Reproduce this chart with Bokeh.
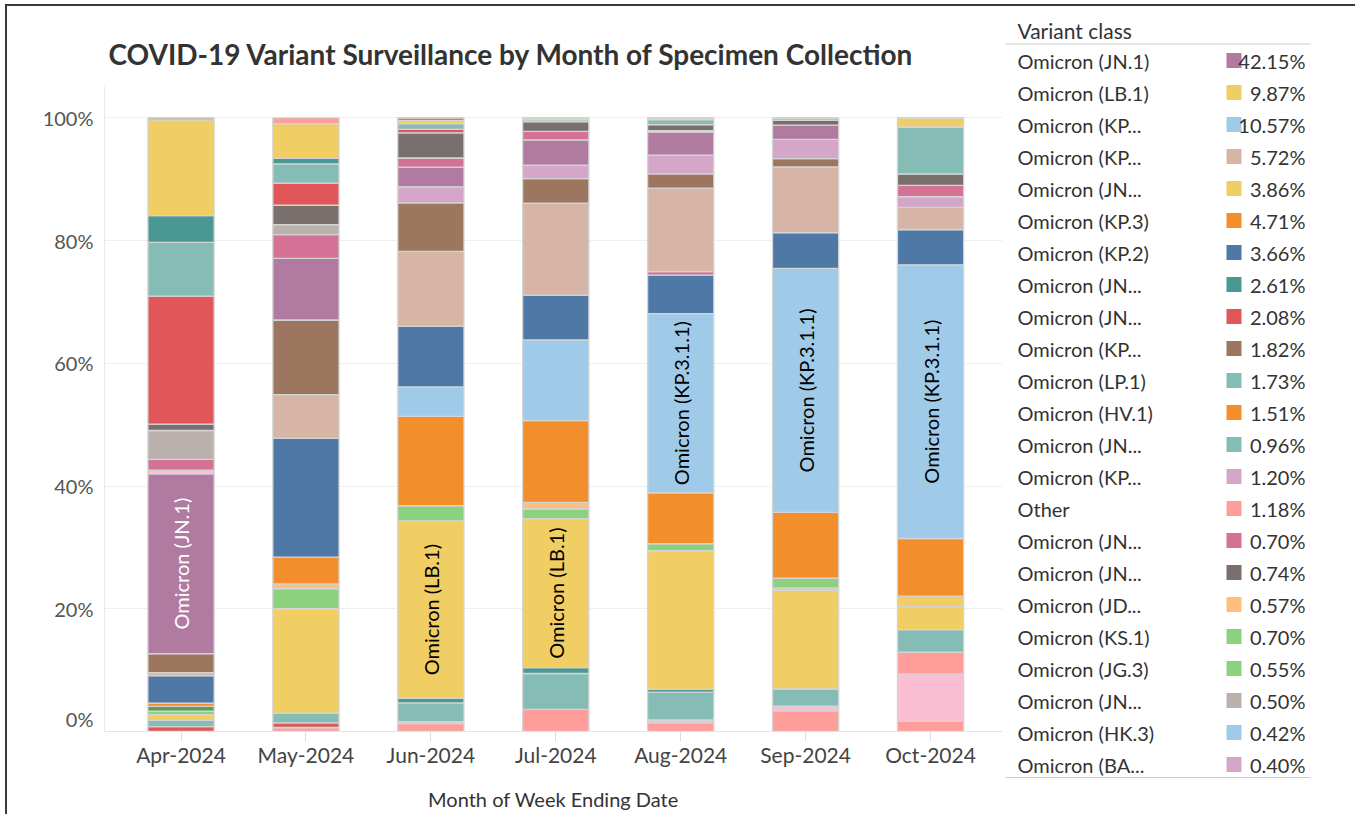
import math
from bokeh.plotting import figure
from bokeh.models import Range1d, FixedTicker, ColumnDataSource
from bokeh.layouts import row
from bokeh.embed import file_html
from bokeh.resources import INLINE
from bokeh.core.properties import value

FONT = "Lato"

months = ["Apr-2024", "May-2024", "Jun-2024", "Jul-2024", "Aug-2024", "Sep-2024", "Oct-2024"]

# share of sequences (%) per month, stacking layers listed bottom -> top
other = [0, 0.65, 1.3, 3.6, 1.4, 3.35, 1.65]
xec = [0, 0, 0.3, 0, 0.5, 0.8, 7.75]
mc_1 = [0, 0, 0, 0, 0, 0, 3.55]
jn_1_16_1 = [0.8, 0.75, 0, 0, 0, 0, 0]
jn_1_18 = [1.0, 1.6, 3.05, 5.85, 4.5, 2.8, 3.65]
jn_1_16 = [0, 0, 0.75, 0.95, 0.45, 0, 0]
lb_1 = [0.95, 17.0, 28.9, 24.3, 22.6, 16.05, 3.75]
kp_2_3 = [0, 0, 0, 0, 0, 0.4, 1.7]
ks_1 = [0.55, 3.3, 2.5, 1.6, 1.15, 1.6, 0]
jg_3 = [0.8, 0, 0, 0, 0, 0, 0]
jd_1_1 = [0, 0.75, 0, 1.05, 0, 0, 0]
kp_3 = [0.5, 4.35, 14.55, 13.3, 8.3, 10.7, 9.4]
kp_3_1_1 = [0, 0, 4.8, 13.15, 29.2, 39.75, 44.6]
kp_2 = [4.5, 19.35, 9.9, 7.3, 6.25, 5.85, 5.75]
kp_2_15 = [0, 0, 0, 0, 0.6, 0, 0]
kp_1_1_3 = [0.5, 7.15, 12.2, 15.0, 13.6, 10.7, 3.6]
kp_1_1 = [3.1, 12.15, 7.9, 4.0, 2.3, 1.35, 0]
kp_4_1 = [0, 0, 2.6, 2.2, 3.05, 3.15, 1.75]
jn_1 = [29.3, 10.05, 3.2, 4.1, 3.8, 2.3, 0]
ba_2_86_1 = [0.6, 0, 0, 0, 0, 0, 0]
jn_1_8_1 = [1.75, 3.85, 1.5, 1.4, 0.2, 0, 1.85]
jn_1_4_3 = [4.7, 1.65, 0, 0, 0, 0, 0]
jn_1_11 = [1.05, 3.15, 4.1, 1.6, 1.0, 0.8, 1.85]
jn_1_13_1 = [20.85, 3.6, 0.55, 0, 0, 0, 0]
lp_1 = [8.75, 3.15, 0.95, 0.3, 0.8, 0.4, 7.65]
jn_1_7 = [4.35, 0.9, 0, 0, 0, 0, 0]
jn_1_11_1 = [15.6, 5.65, 0.5, 0.3, 0.3, 0, 1.5]
xdp = [0.35, 0, 0.45, 0, 0, 0, 0]
hv_1 = [0, 0.95, 0, 0, 0, 0, 0]

layer_names = ["Other", "XEC", "MC.1", "JN.1.16.1", "JN.1.18", "JN.1.16", "LB.1", "KP.2.3",
               "KS.1", "JG.3", "JD.1.1", "KP.3", "KP.3.1.1", "KP.2", "KP.2.15", "KP.1.1.3",
               "KP.1.1", "KP.4.1", "JN.1", "BA.2.86.1", "JN.1.8.1", "JN.1.4.3", "JN.1.11",
               "JN.1.13.1", "LP.1", "JN.1.7", "JN.1.11.1", "XDP", "HV.1"]
layer_values = [other, xec, mc_1, jn_1_16_1, jn_1_18, jn_1_16, lb_1, kp_2_3,
                ks_1, jg_3, jd_1_1, kp_3, kp_3_1_1, kp_2, kp_2_15, kp_1_1_3,
                kp_1_1, kp_4_1, jn_1, ba_2_86_1, jn_1_8_1, jn_1_4_3, jn_1_11,
                jn_1_13_1, lp_1, jn_1_7, jn_1_11_1, xdp, hv_1]
layer_colors = ["#FF9D9A", "#FABFD2", "#FF9D9A", "#E15759", "#86BCB6", "#499894", "#F1CE63", "#F1CE63",
                "#8CD17D", "#59A14F", "#FFBE7D", "#F28E2B", "#A0CBE8", "#4E79A7", "#D37295", "#D7B5A6",
                "#9D7660", "#D4A6C8", "#B07AA1", "#FABFD2", "#D37295", "#BAB0AC", "#79706E",
                "#E15759", "#86BCB6", "#499894", "#F1CE63", "#B6992D", "#FF9D9A"]

# in-bar labels: (layer, month index, text, colour)
bar_labels = [("JN.1", 0, "Omicron (JN.1)", "white"),
              ("LB.1", 2, "Omicron (LB.1)", "black"),
              ("LB.1", 3, "Omicron (LB.1)", "black"),
              ("KP.3.1.1", 4, "Omicron (KP.3.1.1)", "black"),
              ("KP.3.1.1", 5, "Omicron (KP.3.1.1)", "black"),
              ("KP.3.1.1", 6, "Omicron (KP.3.1.1)", "black")]

# legend table
legend_names = ["Omicron (JN.1)", "Omicron (LB.1)", "Omicron (KP...", "Omicron (KP...", "Omicron (JN...",
                "Omicron (KP.3)", "Omicron (KP.2)", "Omicron (JN...", "Omicron (JN...", "Omicron (KP...",
                "Omicron (LP.1)", "Omicron (HV.1)", "Omicron (JN...", "Omicron (KP...", "Other",
                "Omicron (JN...", "Omicron (JN...", "Omicron (JD...", "Omicron (KS.1)", "Omicron (JG.3)",
                "Omicron (JN...", "Omicron (HK.3)", "Omicron (BA..."]
legend_pcts = ["42.15%", "9.87%", "10.57%", "5.72%", "3.86%", "4.71%", "3.66%", "2.61%", "2.08%", "1.82%",
               "1.73%", "1.51%", "0.96%", "1.20%", "1.18%", "0.70%", "0.74%", "0.57%", "0.70%", "0.55%",
               "0.50%", "0.42%", "0.40%"]
legend_colors = ["#B07AA1", "#F1CE63", "#A0CBE8", "#D7B5A6", "#F1CE63", "#F28E2B", "#4E79A7", "#499894",
                 "#E15759", "#9D7660", "#86BCB6", "#F28E2B", "#86BCB6", "#D4A6C8", "#FF9D9A", "#D37295",
                 "#79706E", "#FFBE7D", "#8CD17D", "#8CD17D", "#BAB0AC", "#A0CBE8", "#D4A6C8"]

# ---------------- main chart ----------------
xs = list(range(len(months)))
data = {"x": xs}
for n, v in zip(layer_names, layer_values):
    data[n] = v
src = ColumnDataSource(data)

p = figure(width=996, height=808, output_backend="svg", toolbar_location=None,
           x_range=Range1d(-0.6125, 6.576), y_range=Range1d(0, 105.1),
           min_border_left=97, min_border_right=1, min_border_top=80, min_border_bottom=83)
p.frame_align = False
p.title.text = "COVID-19 Variant Surveillance by Month of Specimen Collection"
p.title.text_font = FONT
p.title.text_font_style = "bold"
p.title.text_font_size = "28px"
p.title.text_color = "#333333"
p.title.offset = 4
p.title.standoff = 32

p.vbar_stack(layer_names, x="x", width=0.53, color=layer_colors, source=src,
             line_color="#D4D4D4", line_width=1.3)

lx, ly, lt, lc = [], [], [], []
for layer, m, txt, col in bar_labels:
    k = layer_names.index(layer)
    below = sum(layer_values[j][m] for j in range(k))
    lx.append(xs[m])
    ly.append(below + layer_values[k][m] / 2)
    lt.append(txt)
    lc.append(col)
p.text(x=lx, y=ly, text=lt, angle=math.pi / 2, text_align="center", text_baseline="middle",
       text_font=value(FONT), text_font_size="20px", text_color=lc)

p.outline_line_color = None
p.background_fill_color = "white"

xa = p.xaxis[0]
xa.ticker = FixedTicker(ticks=xs)
xa.major_label_overrides = {i: m for i, m in zip(xs, months)}
xa.major_label_text_font = FONT
xa.major_label_text_font_size = "21px"
xa.major_label_text_color = "#444444"
xa.major_label_standoff = 0
xa.major_tick_out = 10
xa.major_tick_in = 0
xa.major_tick_line_color = "#DDDDDD"
xa.minor_tick_line_color = None
xa.axis_line_color = "#E4E4E4"
xa.axis_label = "Month of Week Ending Date"
xa.axis_label_text_font = FONT
xa.axis_label_text_font_size = "20px"
xa.axis_label_text_font_style = "normal"
xa.axis_label_text_color = "#333333"
xa.axis_label_standoff = 17

ya = p.yaxis[0]
# Tableau lifts the bottom label so it stays inside the pane
ya.ticker = FixedTicker(ticks=[2, 20, 40, 60, 80, 100])
ya.major_label_overrides = {2: "0%", 20: "20%", 40: "40%", 60: "60%", 80: "80%", 100: "100%"}
ya.major_label_text_font = FONT
ya.major_label_text_font_size = "20px"
ya.major_label_text_color = "#555555"
ya.major_label_standoff = 5
ya.major_tick_line_color = None
ya.minor_tick_line_color = None
ya.axis_line_color = "#EBEBEB"

p.xgrid.grid_line_color = None
p.ygrid.ticker = FixedTicker(ticks=[20, 40, 60, 80, 100])
p.ygrid.grid_line_color = "#EFEFEF"
p.ygrid.grid_line_width = 1

# ---------------- legend table ----------------
LW, LH = 352, 808
lg = figure(width=LW, height=LH, output_backend="svg", toolbar_location=None,
            x_range=Range1d(0, LW), y_range=Range1d(LH, 0),
            min_border=0, x_axis_type=None, y_axis_type=None)
lg.frame_align = False
lg.grid.grid_line_color = None
lg.outline_line_color = None

lg.text(x=[14], y=[24], text=["Variant class"], text_align="left", text_baseline="middle",
        text_font=value(FONT), text_font_size="21px", text_color="#333333")
n = len(legend_names)
row_y = [54 + 32 * i for i in range(n)]
lg.segment(x0=[2, 2], y0=[37.5, row_y[-1] + 13], x1=[307, 307], y1=[37.5, row_y[-1] + 13],
           line_color="#CCCCCC", line_width=1.2)
lg.text(x=[14] * n, y=row_y, text=legend_names, text_align="left", text_baseline="middle",
        text_font=value(FONT), text_font_size="20px", text_color="#333333")
lg.rect(x=[230.5] * n, y=row_y, width=15, height=15, width_units="screen", height_units="screen",
        fill_color=legend_colors, line_color=None)
lg.text(x=[302] * n, y=row_y, text=legend_pcts, text_align="right", text_baseline="middle",
        text_font=value(FONT), text_font_size="20px", text_color="#333333")

layout = row(p, lg, spacing=0, margin=(4, 0, 0, 5),
             styles={"border-top": "2px solid #3a3a3a", "border-left": "2px solid #3a3a3a"})

open("out.html", "w").write(file_html(layout, INLINE))
